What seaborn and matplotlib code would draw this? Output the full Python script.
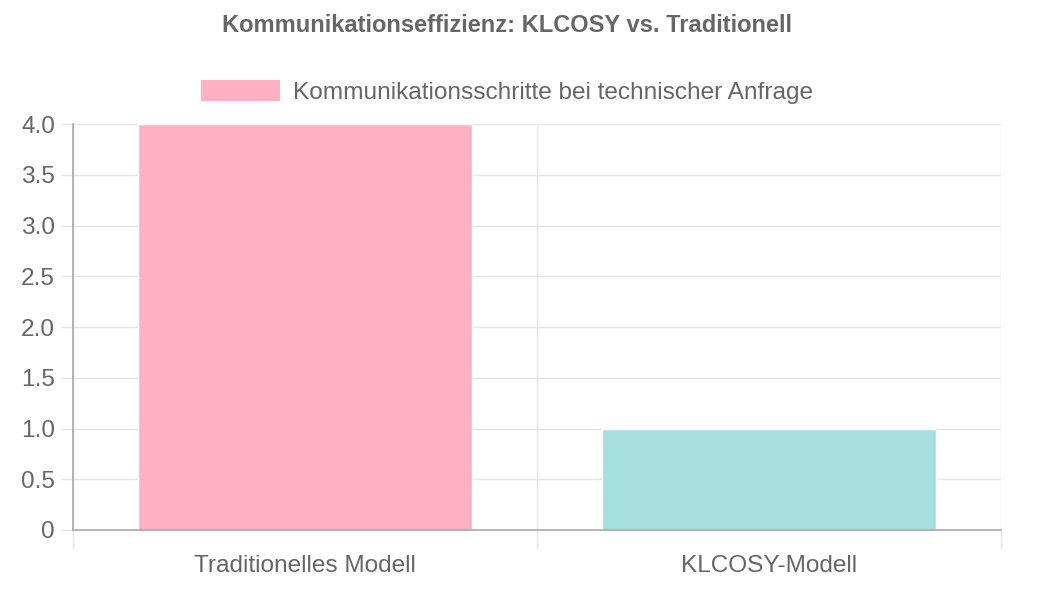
import numpy as np
import pandas as pd
import matplotlib
matplotlib.use("Agg")
import matplotlib.pyplot as plt
import seaborn as sns
from matplotlib.patches import Patch
from matplotlib.ticker import FixedLocator, NullFormatter

# Daten
modelle = ["Traditionelles Modell", "KLCOSY-Modell"]
schritte = [4, 1]
farben = ["#FFB1C1", "#A5DFDF"]
y_ticks = [0, 0.5, 1.0, 1.5, 2.0, 2.5, 3.0, 3.5, 4.0]
y_labels = ["0", "0.5", "1.0", "1.5", "2.0", "2.5", "3.0", "3.5", "4.0"]

sns.set_style("white")
plt.rcParams["font.family"] = ["Liberation Sans", "DejaVu Sans"]

TXT = "#666666"
GRID = "#E5E5E5"
AXIS = "#A8A8A8"
FS = 17.6

W, H = 1044, 599
fig = plt.figure(figsize=(W / 100, H / 100), dpi=100)
ax = fig.add_axes([73 / W, (H - 530) / H, 928 / W, 406 / H])

df = pd.DataFrame({"Modell": modelle, "Schritte": schritte})
sns.barplot(data=df, x="Modell", y="Schritte", hue="Modell", palette=farben,
            width=0.72, saturation=1, legend=False, ax=ax, zorder=2)

ax.set_xlim(-0.5, 1.5)
ax.set_ylim(0, 4)
ax.set_xlabel("")
ax.set_ylabel("")

# y-Achse
ax.set_yticks(y_ticks)
ax.set_yticklabels(y_labels)
ax.tick_params(axis="y", left=True, length=9, width=1, color=GRID,
               labelsize=FS, labelcolor=TXT, pad=4)
ax.grid(axis="y", color=GRID, linewidth=1, zorder=0)

# x-Achse: Gitterlinien an Kategoriegrenzen, Beschriftung in der Mitte
ax.xaxis.set_major_locator(FixedLocator([-0.5, 0.5, 1.5]))
ax.xaxis.set_major_formatter(NullFormatter())
ax.xaxis.set_minor_locator(FixedLocator([0, 1]))
ax.set_xticklabels(modelle, minor=True)
ax.tick_params(axis="x", which="major", bottom=True, length=14, width=1,
               color=GRID)
ax.tick_params(axis="x", which="minor", bottom=True, length=0, labelsize=FS,
               labelcolor=TXT, pad=18)
ax.grid(axis="x", which="major", color=GRID, linewidth=1, zorder=0)
ax.xaxis.get_major_ticks()[0].tick1line.set_color(AXIS)
ax.set_axisbelow(True)

for s in ["top", "right"]:
    ax.spines[s].set_visible(False)
for s in ["left", "bottom"]:
    ax.spines[s].set_color(AXIS)
    ax.spines[s].set_linewidth(1.2)
    ax.spines[s].set_zorder(3)

# Titel und Legende
cx = 507 / W
fig.text(cx, 1 - 26 / H, "Kommunikationseffizienz: KLCOSY vs. Traditionell",
         ha="center", va="center", fontsize=17, fontweight="bold", color=TXT)
handle = Patch(facecolor=farben[0], edgecolor="none")
fig.legend(handles=[handle], labels=["Kommunikationsschritte bei technischer Anfrage"],
           loc="center", bbox_to_anchor=(cx, 1 - 92 / H), frameon=False,
           fontsize=FS, labelcolor=TXT, handlelength=3.25, handleheight=0.95,
           handletextpad=0.53)

fig.savefig("out.png", dpi=100)
